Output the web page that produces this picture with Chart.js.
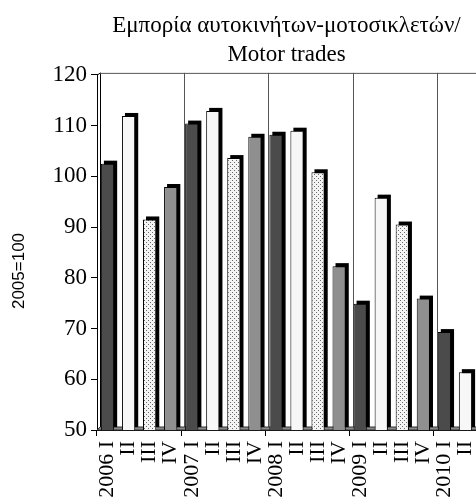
<!DOCTYPE html>
<html>
<head>
<meta charset="utf-8">
<script src="https://cdn.jsdelivr.net/npm/chart.js@4.4.1/dist/chart.umd.min.js"></script>
<style>
html,body{margin:0;padding:0;background:#fff;}
#wrap{width:476px;height:502px;}
</style>
</head>
<body>
<div id="wrap"><canvas id="c" width="476" height="502"></canvas></div>
<script>
const categories = ["2006 I","II","III","IV","2007 I","II","III","IV","2008 I","II","III","IV","2009 I","II","III","IV","2010 I","II"];
const values = [102.5,111.9,91.5,97.9, 110.4,112.9,103.6,107.8, 108.2,109.0,100.8,82.3, 74.9,95.8,90.5,75.9, 69.3,61.4];
const titleLines = ["Εμπορία αυτοκινήτων-μοτοσικλετών/","Motor trades"];
const yTitle = "2005=100";
const yMin = 50, yMax = 120, yStep = 10;

// dotted pattern for quarter III
const pc = document.createElement('canvas');
pc.width = 4; pc.height = 4;
const pctx = pc.getContext('2d');
pctx.fillStyle = '#f4f4f4'; pctx.fillRect(0,0,4,4);
pctx.fillStyle = '#6a6a6a';
pctx.fillRect(0,0,1,1); pctx.fillRect(2,2,1,1);
const ctxMain = document.getElementById('c').getContext('2d');
const dotted = ctxMain.createPattern(pc,'repeat');
const quarterColors = ['#4b4b4b','#f7f7f7',dotted,'#8f8f8f'];
const barColors = categories.map((c,i)=>quarterColors[i%4]);

const D = 3; // 3D depth
const depthPlugin = {
  id:'depth',
  beforeDatasetsDraw(chart){
    const ctx = chart.ctx, a = chart.chartArea;
    ctx.save();
    // back wall left edge
    ctx.strokeStyle = '#000'; ctx.lineWidth = 1;
    ctx.beginPath();
    ctx.moveTo(a.left + D + 0.5, a.top - 2);
    ctx.lineTo(a.left + D + 0.5, a.bottom - D);
    ctx.stroke();
    ctx.beginPath();
    ctx.moveTo(a.left + 0.5, a.top);
    ctx.lineTo(a.left + D + 0.5, a.top - 2);
    ctx.stroke();
    // top line
    ctx.strokeStyle = '#555';
    ctx.beginPath();
    ctx.moveTo(a.left + D, a.top - 2 + 0.5);
    ctx.lineTo(a.right, a.top - 2 + 0.5);
    ctx.stroke();
    // year separators on back wall
    const xs = chart.scales.x;
    for (let i = 4; i < categories.length; i += 4) {
      const x = Math.round((xs.getPixelForTick(i-1) + xs.getPixelForTick(i))/2) + D + 0.5;
      ctx.beginPath();
      ctx.moveTo(x, a.top - 2);
      ctx.lineTo(x, a.bottom - D);
      ctx.stroke();
    }
    // floor
    ctx.fillStyle = '#8a8a8a';
    ctx.strokeStyle = '#333';
    ctx.beginPath();
    ctx.moveTo(a.left, a.bottom);
    ctx.lineTo(a.right + D, a.bottom);
    ctx.lineTo(a.right + D, a.bottom - D);
    ctx.lineTo(a.left + D, a.bottom - D);
    ctx.closePath();
    ctx.fill(); ctx.stroke();
    // bar depth (top + right side)
    const meta = chart.getDatasetMeta(0);
    ctx.fillStyle = '#000';
    meta.data.forEach(el => {
      const w = el.width;
      const bottom = Math.min(el.base, a.bottom);
      ctx.fillRect(el.x - w/2 + D, el.y - D, w, bottom - el.y);
    });
    ctx.restore();
  },
  afterDraw(chart){
    // vertical axis title, placed like the reference
    const ctx = chart.ctx;
    ctx.save();
    ctx.translate(19, 271);
    ctx.rotate(-Math.PI/2);
    ctx.fillStyle = '#000';
    ctx.font = '17px "Liberation Sans"';
    ctx.textAlign = 'center';
    ctx.textBaseline = 'middle';
    ctx.fillText(yTitle, 0, 0);
    ctx.restore();
  }
};

new Chart(ctxMain, {
  type:'bar',
  data:{
    labels:categories,
    datasets:[{
      data:values,
      backgroundColor:barColors,
      borderColor:'#000',
      borderWidth:1,
      borderSkipped:false,
      barPercentage:0.63,
      categoryPercentage:1.0
    }]
  },
  options:{
    responsive:false,
    animation:false,
    devicePixelRatio:1,
    layout:{padding:{left:0,right:0,top:0,bottom:0}},
    plugins:{
      legend:{display:false},
      tooltip:{enabled:false},
      title:{
        display:true,
        text:titleLines,
        fullSize:false,
        color:'#000',
        font:{family:'"Liberation Serif"',size:23,weight:'normal',lineHeight:1.28},
        padding:{top:11,bottom:5}
      }
    },
    scales:{
      x:{
        afterFit(s){ s.height = 72; s.paddingLeft = 0; s.paddingRight = 0; },
        grid:{
          display:true,
          drawOnChartArea:false,
          offset:true,
          tickLength:6,
          color:(c)=> (c.index % 4 === 0 ? '#000' : 'rgba(0,0,0,0)')
        },
        border:{display:true,color:'#000'},
        ticks:{
          autoSkip:false,
          minRotation:90,
          maxRotation:90,
          padding:5,
          color:'#000',
          font:{family:'"Liberation Serif"',size:22}
        }
      },
      y:{
        min:yMin, max:yMax,
        afterFit(s){ s.width = 97; s.paddingTop = 0; s.paddingBottom = 0; },
        grid:{display:true,drawOnChartArea:false,tickLength:6,color:'#000'},
        border:{display:true,color:'#000'},
        ticks:{
          stepSize:yStep,
          padding:4,
          color:'#000',
          font:{family:'"Liberation Serif"',size:23}
        },
        title:{display:false,text:yTitle}
      }
    }
  },
  plugins:[depthPlugin]
});
</script>
</body>
</html>
